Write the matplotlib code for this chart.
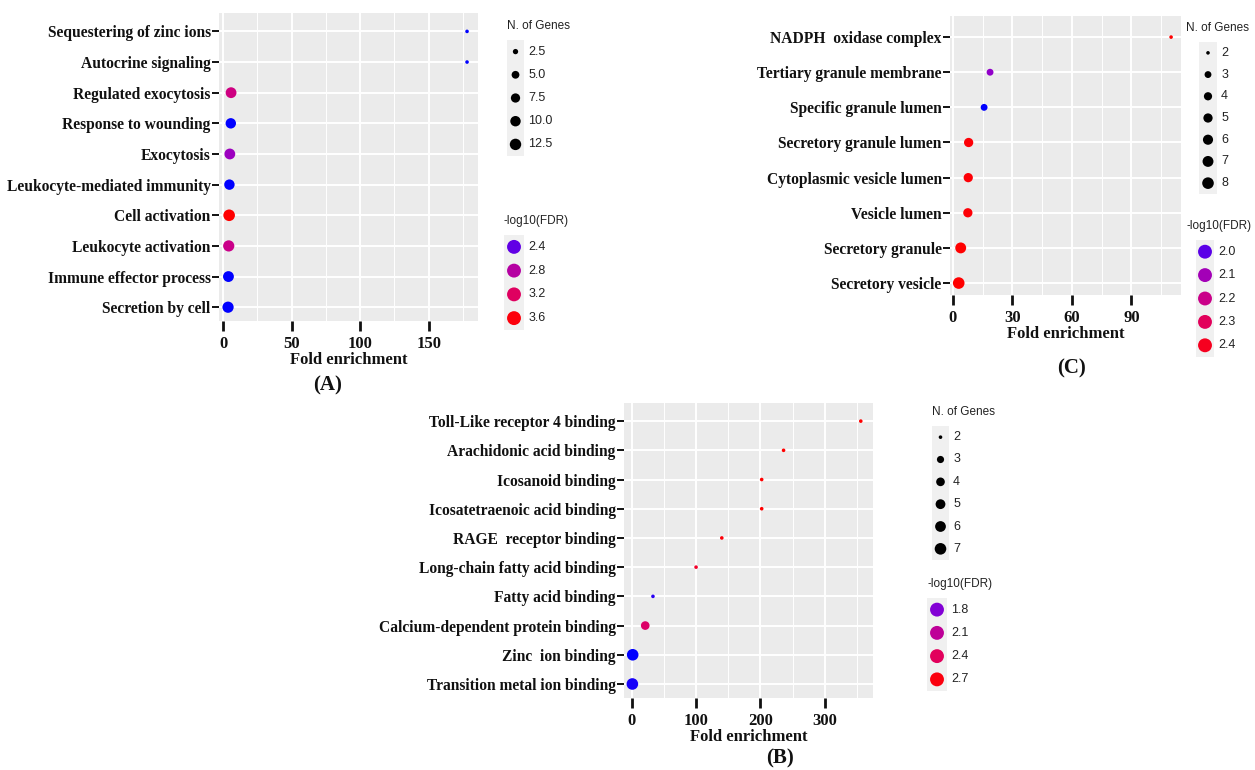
import matplotlib
matplotlib.use("Agg")
import matplotlib.pyplot as plt
from matplotlib.colors import LinearSegmentedColormap, Normalize
from matplotlib.ticker import MultipleLocator
import numpy as np

W, H = 1255, 770

# ---- panel A (biological process), listed top to bottom
a_terms = ["Sequestering of zinc ions", "Autocrine signaling", "Regulated exocytosis",
           "Response to wounding", "Exocytosis", "Leukocyte-mediated immunity",
           "Cell activation", "Leukocyte activation", "Immune effector process",
           "Secretion by cell"]
a_fold = [178, 178, 5.8, 5.6, 4.9, 4.6, 4.4, 4.1, 3.9, 3.6]
a_genes = [2, 2, 11, 10, 11, 10, 13, 12, 11, 12]
a_fdr = [2.25, 2.25, 3.0, 2.25, 2.62, 2.25, 3.65, 2.95, 2.25, 2.25]
a_xticks = [0, 50, 100, 150]
a_size_breaks = [2.5, 5.0, 7.5, 10.0, 12.5]
a_size_labels = ["2.5", "5.0", "7.5", "10.0", "12.5"]
a_color_breaks = [2.4, 2.8, 3.2, 3.6]

# ---- panel C (cellular component)
c_terms = ["NADPH  oxidase complex", "Tertiary granule membrane", "Specific granule lumen",
           "Secretory granule lumen", "Cytoplasmic vesicle lumen", "Vesicle lumen",
           "Secretory granule", "Secretory vesicle"]
c_fold = [110, 18.7, 15.7, 7.9, 7.7, 7.5, 3.9, 2.9]
c_genes = [2, 3, 3, 5, 5, 5, 7, 8]
c_fdr = [2.45, 2.06, 1.95, 2.44, 2.44, 2.44, 2.45, 2.45]
c_xticks = [0, 30, 60, 90]
c_size_breaks = [2, 3, 4, 5, 6, 7, 8]
c_color_breaks = [2.0, 2.1, 2.2, 2.3, 2.4]

# ---- panel B (molecular function)
b_terms = ["Toll-Like receptor 4 binding", "Arachidonic acid binding", "Icosanoid binding",
           "Icosatetraenoic acid binding", "RAGE  receptor binding",
           "Long-chain fatty acid binding", "Fatty acid binding",
           "Calcium-dependent protein binding", "Zinc  ion binding",
           "Transition metal ion binding"]
b_fold = [356, 236, 202, 202, 140, 100, 33, 21, 1.5, 1.0]
b_genes = [2, 2, 2, 2, 2, 2, 2, 4, 7, 7]
b_fdr = [2.75, 2.75, 2.75, 2.75, 2.72, 2.6, 1.65, 2.35, 1.6, 1.63]
b_xticks = [0, 100, 200, 300]
b_size_breaks = [2, 3, 4, 5, 6, 7]
b_color_breaks = [1.8, 2.1, 2.4, 2.7]

# blue -> red as ggplot does it (interpolated in Lab)
cmap = LinearSegmentedColormap.from_list(
    "bluered", [(0, "#0000FF"), (0.125, "#7300E0"), (0.25, "#9A00C2"),
                (0.5, "#CA0089"), (0.75, "#E80050"), (1, "#FF0000")])

serif = "Liberation Serif"
sans = ["Liberation Sans", "DejaVu Sans"]
ink = "#111111"

fig = plt.figure(figsize=(W / 100, H / 100), dpi=100)
fig.patch.set_facecolor("white")


def px(left, top, right, bottom):
    return [left / W, 1 - bottom / H, (right - left) / W, (bottom - top) / H]


def dot_size(n, nmin, nmax):
    t = (np.asarray(n, float) - nmin) / (nmax - nmin)
    d = 3.6 + 8.0 * np.sqrt(np.clip(t, 0, 1))   # diameter in px
    return (d * 0.72) ** 2


def panel(rect, terms, fold, genes, fdr, xticks, minor, xlim, ylim, gmin, gmax):
    ax = fig.add_axes(px(*rect))
    ax.set_facecolor("#EBEBEB")
    ypos = np.arange(len(terms), 0, -1)
    norm = Normalize(min(fdr), max(fdr))
    ax.scatter(fold, ypos, s=dot_size(genes, gmin, gmax), c=fdr, cmap=cmap,
               norm=norm, linewidths=0, zorder=3)
    ax.set_xlim(*xlim)
    ax.set_ylim(*ylim)
    ax.set_xticks(xticks)
    ax.xaxis.set_minor_locator(MultipleLocator(minor))
    ax.set_yticks(ypos)
    ax.set_yticklabels(terms, fontfamily=serif, fontweight="bold", fontsize=11.2, color=ink)
    for t in ax.get_xticklabels():
        t.set_fontfamily(serif)
        t.set_fontweight("bold")
        t.set_fontsize(12)
        t.set_color(ink)
    ax.grid(which="major", color="white", linewidth=1.4)
    ax.grid(which="minor", axis="x", color="white", linewidth=0.7)
    ax.set_axisbelow(True)
    for s in ax.spines.values():
        s.set_visible(False)
    ax.tick_params(axis="y", length=5, width=1.4, color=ink, pad=1)
    ax.tick_params(axis="x", which="major", length=7, width=2, color=ink, pad=4)
    ax.tick_params(axis="x", which="minor", length=0)
    ax.set_xlabel("Fold enrichment", fontfamily=serif, fontweight="bold", fontsize=12,
                  color=ink, labelpad=0)
    return norm


def legend_block(rect, title, labels, sizes, colors, title_dx=0):
    ax = fig.add_axes(px(*rect))
    ax.set_facecolor("#F0F0F0")
    n = len(labels)
    ys = np.arange(n)
    ax.scatter(np.zeros(n), ys, s=sizes, c=colors, linewidths=0)
    ax.set_xlim(-1, 1)
    ax.set_ylim(n - 0.5, -0.5)
    ax.set_xticks([])
    ax.set_yticks([])
    for s in ax.spines.values():
        s.set_visible(False)
    for y, lab in zip(ys, labels):
        ax.annotate(lab, xy=(1, y), xycoords=("axes fraction", "data"), xytext=(3, 0),
                    textcoords="offset points", va="center", ha="left",
                    fontfamily=sans, fontsize=9, color="#222222")
    ax.annotate(title, xy=(0, 1), xycoords="axes fraction", xytext=(title_dx, 6),
                textcoords="offset points", va="bottom", ha="left",
                fontfamily=sans, fontsize=8.5, color="#222222")


# panel A
norm_a = panel((219, 13, 478, 321), a_terms, a_fold, a_genes, a_fdr, a_xticks, 25,
               (-3, 186), (0.55, 10.6), 2, 13)
legend_block((507, 40, 524, 156), "N. of Genes", a_size_labels,
             dot_size(a_size_breaks, 2, 13), ["black"] * len(a_size_breaks))
legend_block((504, 235, 524, 330), "-log10(FDR)", [f"{v:.1f}" for v in a_color_breaks],
             [100] * len(a_color_breaks), cmap(norm_a(a_color_breaks)))
fig.text(328 / W, 1 - 385 / H, "(A)", fontfamily=serif, fontweight="bold", fontsize=15,
         ha="center", va="center", color=ink)

# panel C
norm_c = panel((950, 16, 1181, 295), c_terms, c_fold, c_genes, c_fdr, c_xticks, 15,
               (-1.5, 115), (0.66, 8.6), 2, 8)
legend_block((1199, 42, 1217, 194), "N. of Genes", [str(v) for v in c_size_breaks],
             dot_size(c_size_breaks, 2, 8), ["black"] * len(c_size_breaks), title_dx=-9)
legend_block((1196, 240, 1214, 357), "-log10(FDR)", [f"{v:.1f}" for v in c_color_breaks],
             [100] * len(c_color_breaks), cmap(norm_c(c_color_breaks)), title_dx=-7)
fig.text(1072 / W, 1 - 368 / H, "(C)", fontfamily=serif, fontweight="bold", fontsize=15,
         ha="center", va="center", color=ink)

# panel B
norm_b = panel((624, 403, 873, 698), b_terms, b_fold, b_genes, b_fdr, b_xticks, 50,
               (-12, 375), (0.52, 10.62), 2, 7)
legend_block((932, 426, 949, 560), "N. of Genes", [str(v) for v in b_size_breaks],
             dot_size(b_size_breaks, 2, 7), ["black"] * len(b_size_breaks))
legend_block((927, 598, 947, 691), "-log10(FDR)", [f"{v:.1f}" for v in b_color_breaks],
             [100] * len(b_color_breaks), cmap(norm_b(b_color_breaks)))
fig.text(780 / W, 1 - 758 / H, "(B)", fontfamily=serif, fontweight="bold", fontsize=15,
         ha="center", va="center", color=ink)

fig.savefig("out.png", dpi=100)
